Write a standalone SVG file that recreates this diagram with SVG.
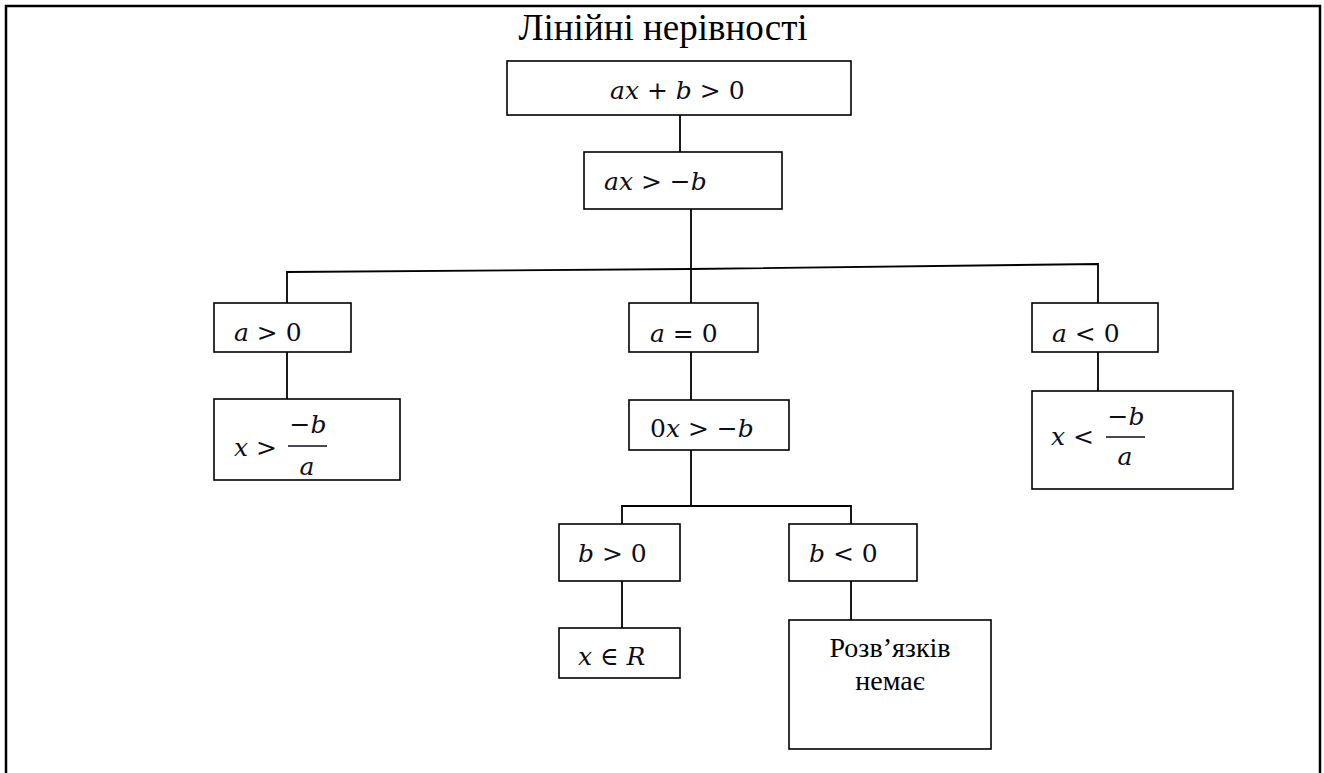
<svg xmlns="http://www.w3.org/2000/svg" width="1324" height="773" viewBox="0 0 1324 773">
<style>
.box{fill:#fff;stroke:#000;stroke-width:1.6}
.con{fill:none;stroke:#000;stroke-width:1.8}
.m{font-family:"DejaVu Serif","Liberation Serif",serif;font-size:25px;fill:#0d0d1a}
.i{font-style:italic}
.t{font-family:"Liberation Serif","Times New Roman","DejaVu Serif",serif;fill:#000}
</style>
<rect width="1324" height="773" fill="#fff"/>
<path d="M6,773 V6 H1320 V773" fill="none" stroke="#000" stroke-width="2.5"/>
<text class="t" x="663" y="40" font-size="37" text-anchor="middle">Лінійні нерівності</text>
<g id="connectors">
<path class="con" d="M680,115 V152"/>
<path class="con" d="M691,209 V303"/>
<path class="con" d="M287,303 V272 L691,269 L1098,264 V303"/>
<path class="con" d="M287,352 V399"/>
<path class="con" d="M691,352 V400"/>
<path class="con" d="M1098,352 V391"/>
<path class="con" d="M691,450 V506"/>
<path class="con" d="M622,524 V506 H851 V524"/>
<path class="con" d="M622,581 V628"/>
<path class="con" d="M851,581 V620"/>
</g>
<g id="n1"><rect class="box" x="507" y="61" width="344" height="54"/>
<text class="m" x="610" y="99"><tspan class="i">ax</tspan> + <tspan class="i">b</tspan> &gt; 0</text></g>
<g id="n2"><rect class="box" x="584" y="152" width="198" height="57"/>
<text class="m" x="604" y="190"><tspan class="i">ax</tspan> &gt; −<tspan class="i">b</tspan></text></g>
<g id="n3"><rect class="box" x="214" y="303" width="137" height="49"/>
<text class="m" x="234" y="341"><tspan class="i">a</tspan> &gt; 0</text></g>
<g id="n4"><rect class="box" x="629" y="303" width="129" height="49"/>
<text class="m" x="650" y="342"><tspan class="i">a</tspan> = 0</text></g>
<g id="n5"><rect class="box" x="1032" y="303" width="126" height="49"/>
<text class="m" x="1052" y="342"><tspan class="i">a</tspan> &lt; 0</text></g>
<g id="n6"><rect class="box" x="214" y="399" width="186" height="81"/>
<text class="m" x="234" y="456"><tspan class="i">x</tspan> &gt;</text>
<text class="m" x="308" y="433" text-anchor="middle">−<tspan class="i">b</tspan></text>
<line x1="288" y1="446" x2="327" y2="446" stroke="#0d0d1a" stroke-width="1.6"/>
<text class="m i" x="307" y="475" text-anchor="middle">a</text></g>
<g id="n7"><rect class="box" x="629" y="400" width="160" height="50"/>
<text class="m" x="650" y="437">0<tspan class="i">x</tspan> &gt; −<tspan class="i">b</tspan></text></g>
<g id="n8"><rect class="box" x="1032" y="391" width="201" height="98"/>
<text class="m" x="1051" y="445"><tspan class="i">x</tspan> &lt;</text>
<text class="m" x="1126" y="425" text-anchor="middle">−<tspan class="i">b</tspan></text>
<line x1="1106" y1="437" x2="1145" y2="437" stroke="#0d0d1a" stroke-width="1.6"/>
<text class="m i" x="1125" y="465" text-anchor="middle">a</text></g>
<g id="n9"><rect class="box" x="559" y="524" width="121" height="57"/>
<text class="m" x="578" y="562"><tspan class="i">b</tspan> &gt; 0</text></g>
<g id="n10"><rect class="box" x="789" y="524" width="128" height="57"/>
<text class="m" x="809" y="562"><tspan class="i">b</tspan> &lt; 0</text></g>
<g id="n11"><rect class="box" x="559" y="628" width="121" height="50"/>
<text class="m" x="578" y="665"><tspan class="i">x</tspan> ∈ <tspan class="i">R</tspan></text></g>
<g id="n12"><rect class="box" x="789" y="620" width="202" height="129"/>
<text class="t" x="890" y="657" font-size="28" text-anchor="middle">Розв’язків</text>
<text class="t" x="890" y="690" font-size="28" text-anchor="middle">немає</text></g>
</svg>
